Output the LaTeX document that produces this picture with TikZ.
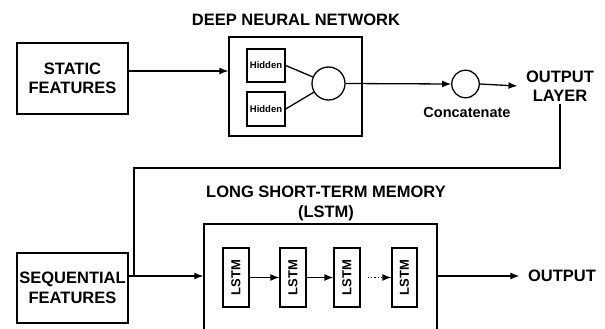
\documentclass[tikz,border=0pt]{standalone}
\usepackage{fontspec}
\setmainfont{Liberation Sans}
\usetikzlibrary{arrows.meta,calc}
\begin{document}
\begin{tikzpicture}[x=1pt,y=-1pt,
  line width=1.3pt,
  box/.style={draw, rectangle, inner sep=0pt},
  big/.style={font=\bfseries\fontsize{16.5}{19.5}\selectfont, align=center},
  arr/.style={-{Latex[length=9pt,width=7pt]}},
  cell/.style={box, minimum width=26pt, minimum height=59pt, font=\bfseries\fontsize{13}{15}\selectfont}
]
\useasboundingbox (0,0) rectangle (605,329);
\clip (0,0) rectangle (605,329);

% top row
\node[box, minimum width=111pt, minimum height=71pt, big] (static) at (72.5,78.5) {STATIC\\FEATURES};
\node[big] (dnntitle) at (296,20) {DEEP NEURAL NETWORK};
\node[box, minimum width=133pt, minimum height=99pt] (dnn) at (295.5,86.5) {};
\node[box, minimum width=38pt, minimum height=33pt, font=\bfseries\fontsize{9.5}{11}\selectfont] (h1) at (266,65.5) {Hidden};
\node[box, minimum width=38pt, minimum height=34pt, font=\bfseries\fontsize{9.5}{11}\selectfont] (h2) at (266,109) {Hidden};
\node[circle, draw, minimum size=33pt, inner sep=0pt] (neuron) at (328.5,83.5) {};
\node[circle, draw, minimum size=27.5pt, inner sep=0pt] (concat) at (465.5,84) {};
\node[font=\bfseries\fontsize{14.5}{17}\selectfont] (concatlbl) at (467,113) {Concatenate};
\node[big, inner xsep=8pt, inner ysep=2pt] (outlayer) at (560,86) {OUTPUT\\LAYER};

\coordinate (sarrow) at (0,71);
\draw[arr] (static.east |- sarrow) -- (dnn.west |- sarrow);
\draw (h1.east) -- (neuron);
\draw (h2.east) -- (neuron);
\draw[arr] (neuron.east) -- (concat.west);
\draw[arr] (concat.east) -- (outlayer.west);

% feedback line
\coordinate (turn) at (134,168);
\coordinate (junc) at (134,276);
\draw (outlayer.south) |- (turn) -- (junc);

% bottom row
\node[box, minimum width=111pt, minimum height=70pt, big] (seq) at (72.5,288) {SEQUENTIAL\\FEATURES};
\node[big] (lstmtitle) at (326,203.3) {LONG SHORT-TERM MEMORY\\(LSTM)};
\node[box, minimum width=233pt, minimum height=130pt] (lstm) at (320.5,289) {};
\node[cell] (c1) at (236,277.5) {\rotatebox{90}{LSTM}};
\node[cell] (c2) at (293,277.5) {\rotatebox{90}{LSTM}};
\node[cell] (c3) at (347,277.5) {\rotatebox{90}{LSTM}};
\node[cell, minimum width=25pt] (c4) at (404.5,277.5) {\rotatebox{90}{LSTM}};
\node[big, inner xsep=8pt] (out) at (562,276) {OUTPUT};

\draw[arr] (seq.east |- junc) -- (lstm.west |- junc);
\draw[arr] (c1) -- (c2);
\draw[arr] (c2) -- (c3);
\draw[arr, dotted, shorten <=7pt] (c3) -- (c4);
\draw[arr] (lstm.east |- junc) -- (out.west |- junc);
\end{tikzpicture}
\end{document}
